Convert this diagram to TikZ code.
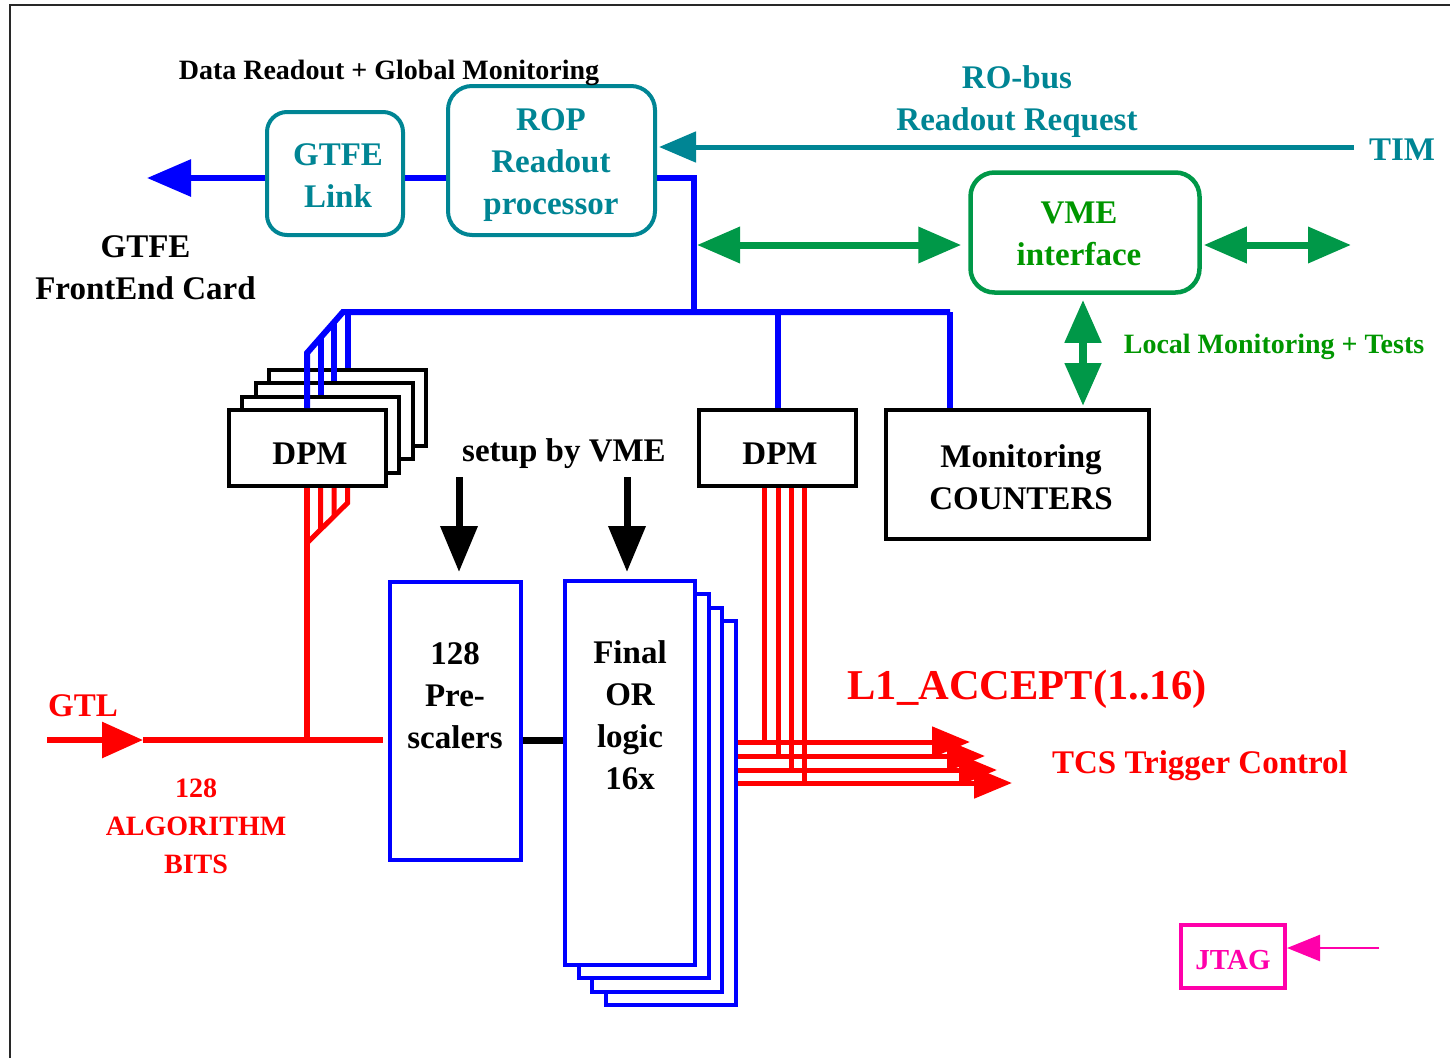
\documentclass[tikz,border=0pt]{standalone}
\usepackage{fontspec}
\setmainfont{Liberation Serif}
\usetikzlibrary{arrows.meta,calc}

\definecolor{roteal}{RGB}{0,133,148}
\definecolor{vmegreen}{RGB}{0,152,72}
\definecolor{txtgreen}{RGB}{0,150,0}
\definecolor{jtagpink}{RGB}{255,0,170}
\definecolor{framegray}{RGB}{40,40,40}

\newcommand\fntS{\fontsize{28}{38}\selectfont\bfseries}
\newcommand\fntM{\fontsize{33}{42}\selectfont\bfseries}
\newcommand\fntL{\fontsize{42.5}{48}\selectfont\bfseries}
\newcommand\fntJ{\fontsize{29}{36}\selectfont\bfseries}

\begin{document}
\begin{tikzpicture}[x=1pt,y=-1pt,
  bluew/.style={draw=blue, line width=6pt},
  redw/.style={draw=red, line width=6pt},
  redthin/.style={draw=red, line width=5pt},
  tealbox/.style={draw=roteal, line width=4pt, inner sep=0pt},
  greenbox/.style={draw=vmegreen, line width=4.5pt, inner sep=0pt},
  blackbox/.style={draw=black, line width=4pt, fill=white, inner sep=0pt},
  bluebox/.style={draw=blue, line width=4pt, fill=white, inner sep=0pt},
  pinkbox/.style={draw=jtagpink, line width=4pt, inner sep=0pt},
  txt/.style={inner sep=0pt, anchor=base, align=center},
  greenarrow/.style={draw=vmegreen, fill=vmegreen, line width=7pt,
    {Triangle[length=43pt,width=35pt]}-{Triangle[length=43pt,width=35pt]}},
  setarrow/.style={draw=black, line width=7pt, -{Triangle[length=46pt,width=36pt]}},
]
\useasboundingbox (0,0) rectangle (1450,1058);

% outer frame
\coordinate (fBL) at (10,1058);
\coordinate (fTL) at (10,5);
\coordinate (fTR) at (1450,5);
\draw[framegray, line width=2pt] (fBL) -- (fTL) -- (fTR);

% reference levels
\coordinate (y147) at (0,147);
\coordinate (y178) at (0,178);
\coordinate (y245) at (0,245);
\coordinate (y740) at (0,740);
\coordinate (y948) at (0,948);
\coordinate (x1083) at (1083,0);

% readout boxes
\node[tealbox, minimum width=136pt, minimum height=123pt, rounded corners=20pt] (gtfe) at (335,173.5) {};
\node[tealbox, minimum width=207pt, minimum height=149pt, rounded corners=24pt] (rop) at (551.5,160.5) {};
\node[greenbox, minimum width=229pt, minimum height=120pt, rounded corners=24pt] (vme) at (1085,232.5) {};

% DPM stack (back to front)
\node[blackbox, minimum width=157pt, minimum height=76pt] (dpmA4) at (347.5,408.1) {};
\node[blackbox, minimum width=157pt, minimum height=76pt] (dpmA3) at (334,421.4) {};
\node[blackbox, minimum width=157pt, minimum height=76pt] (dpmA2) at (320.5,434.7) {};
\node[blackbox, minimum width=157pt, minimum height=76pt] (dpmA1) at (307,448) {};

\node[blackbox, minimum width=157pt, minimum height=76pt] (dpmB) at (777.5,448) {};
\node[blackbox, minimum width=263pt, minimum height=129pt] (mon) at (1017.5,474.5) {};

% prescalers and final OR stack
\node[bluebox, minimum width=131pt, minimum height=278pt] (pre) at (455.5,721) {};
\node[bluebox, minimum width=130pt, minimum height=384pt] (fin4) at (670.5,812.9) {};
\node[bluebox, minimum width=130pt, minimum height=384pt] (fin3) at (657,799.6) {};
\node[bluebox, minimum width=130pt, minimum height=384pt] (fin2) at (643.5,786.3) {};
\node[bluebox, minimum width=130pt, minimum height=384pt] (fin1) at (630,773) {};

% JTAG
\node[pinkbox, minimum width=104pt, minimum height=63pt] (jtag) at (1233,956.5) {};

% ---- data readout path
\coordinate (outTip) at (147,178);
\draw[bluew, -{Triangle[length=44pt,width=36pt]}] (gtfe.west |- y178) -- (outTip);
\draw[bluew] (gtfe.east |- y178) -- (rop.west |- y178);
\coordinate (riserT) at (694,178);
\coordinate (busJ) at (694,312);
\coordinate (busR) at (950,312);
\coordinate (busL) at (343,312);
\coordinate (diagB) at (307,353);
\draw[bluew] (rop.east |- y178) -- (riserT) -- (busJ);
\draw[bluew] (busR) -- (busL) -- (diagB) -- (dpmA1.north);
\draw[bluew] (intersection of busL--diagB and dpmA2.north--dpmA2.south) -- (dpmA2.north);
\draw[bluew] (intersection of busL--diagB and dpmA3.north--dpmA3.south) -- (dpmA3.north);
\draw[bluew] (dpmA4.north |- busL) -- (dpmA4.north);
\draw[bluew] (dpmB.north |- busL) -- (dpmB.north);
\draw[bluew] (busR) -- (busR |- mon.north);

% ---- RO-bus request from TIM
\coordinate (timEnd) at (1354,147);
\draw[draw=roteal, fill=roteal, line width=5pt, -{Triangle[length=37pt,width=30pt]}, shorten >=2pt]
  (timEnd) -- (rop.east |- y147);

% ---- VME access
\coordinate (vmeOut) at (1351,245);
\draw[greenarrow, shorten <=3pt, shorten >=7pt] (busJ |- y245) -- (vme.west |- y245);
\draw[greenarrow, shorten <=2pt] (vme.east |- y245) -- (vmeOut);
\draw[greenarrow, line width=8pt, shorten <=5pt, shorten >=2pt] (vme.south -| x1083) -- (mon.north -| x1083);

% ---- algorithm bits into the DPM stack
\coordinate (rdT) at (347.5,503);
\coordinate (rdB) at (307,543);
\draw[redw] (dpmA1.south) -- (dpmA1.south |- y740);
\draw[redthin] (dpmA1.south -| dpmA4.north) -- (rdT) -- (rdB);
\draw[redthin] (dpmA1.south -| dpmA2.north) -- (intersection of rdT--rdB and dpmA2.north--dpmA2.south);
\draw[redthin] (dpmA1.south -| dpmA3.north) -- (intersection of rdT--rdB and dpmA3.north--dpmA3.south);

% ---- GTL input
\coordinate (gtlIn) at (47,740);
\coordinate (gtlTip) at (143,740);
\draw[redw, fill=red, -{Triangle[length=41pt,width=35pt]}] (gtlIn) -- (gtlTip);
\draw[redw, shorten >=5pt] (gtlTip) -- (pre.west |- y740);
\draw[black, line width=7pt] (pre.east |- y740) -- (fin1.west |- y740);

% ---- setup by VME
\coordinate (setA) at (459,477);
\coordinate (setB) at (627,477);
\draw[setarrow, shorten >=8pt] (setA) -- (pre.north -| setA);
\draw[setarrow, shorten >=7pt] (setB) -- (fin1.north -| setB);

% ---- L1 accept lines
\foreach \i/\xx/\yy/\tx in {1/764/742/970, 2/778/756/985, 3/791/770/997, 4/804/783/1012} {
  \coordinate (tcsTurn\i) at (\xx,\yy);
  \coordinate (tcsTip\i) at (\tx,\yy);
  \draw[redthin] (dpmB.south -| tcsTurn\i) -- (tcsTurn\i);
  \draw[redthin, fill=red, -{Triangle[length=38pt,width=30pt]}] (fin4.east |- tcsTurn\i) -- (tcsTip\i);
}

% ---- JTAG input
\coordinate (jtagIn) at (1379,948);
\draw[draw=jtagpink, fill=jtagpink, line width=2.5pt, -{Triangle[length=33pt,width=26pt]}]
  (jtagIn) -- (jtag.east |- y948);

% ---- texts (multi-line nodes sit on the baseline of their last line)
\node[txt, font=\fntS] (tDRGM) at (389,79) {Data Readout + Global Monitoring};
\node[txt, font=\fntM, text=roteal] (tGtfe) at (338,207) {GTFE\\Link};
\node[txt, font=\fntM, text=roteal] (tRop) at (551,214) {ROP\\Readout\\processor};
\node[txt, font=\fntM] (tFE) at (145.5,299) {GTFE\\FrontEnd Card};
\node[txt, font=\fntM, text=roteal] (tRObus) at (1017,130) {RO-bus\\Readout Request};
\node[txt, font=\fntM, text=roteal] (tTIM) at (1402,160) {TIM};
\node[txt, font=\fntM, text=txtgreen] (tVME) at (1079,265) {VME\\interface};
\node[txt, font=\fntS, text=txtgreen] (tLocal) at (1274,353) {Local Monitoring + Tests};
\node[txt, font=\fntM] (tDpmA) at (310,464) {DPM};
\node[txt, font=\fntM] (tDpmB) at (780,464) {DPM};
\node[txt, font=\fntM] (tSetup) at (564,461) {setup by VME};
\node[txt, font=\fntM] (tMon) at (1021,509) {Monitoring\\COUNTERS};
\node[txt, font=\fntM] (tPre) at (455,748) {128\\Pre-\\scalers};
\node[txt, font=\fntM] (tFin) at (630,789) {Final\\OR\\logic\\16x};
\node[txt, font=\fntL, text=red] (tL1) at (1027,699) {L1\_ACCEPT(1..16)};
\node[txt, font=\fntM, text=red] (tTCS) at (1200,773) {TCS Trigger Control};
\node[txt, font=\fntM, text=red] (tGTL) at (83,716) {GTL};
\node[txt, font=\fntS, text=red] (tAlg) at (196,873) {128\\ALGORITHM\\BITS};
\node[txt, font=\fntJ, text=jtagpink] (tJtag) at (1233,969) {JTAG};
\end{tikzpicture}
\end{document}
